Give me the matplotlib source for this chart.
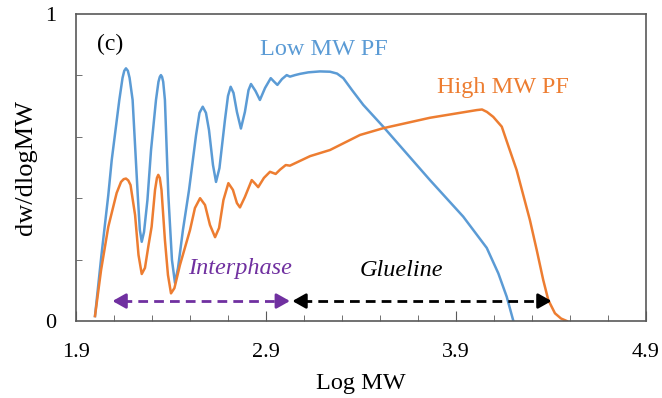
import numpy as np
import matplotlib
matplotlib.use("Agg")
import matplotlib.pyplot as plt
from matplotlib.ticker import MultipleLocator, FixedLocator

plt.rcParams["font.family"] = ["Liberation Serif", "DejaVu Serif"]

# Low MW PF (blue)
low_x = [2.000, 2.034, 2.070, 2.088, 2.128, 2.145, 2.154, 2.163, 2.173, 2.182,
         2.198, 2.225, 2.236, 2.246, 2.258, 2.276, 2.295, 2.321, 2.334, 2.341,
         2.347, 2.353, 2.359, 2.368, 2.386, 2.405, 2.421, 2.437, 2.463, 2.495,
         2.532, 2.550, 2.567, 2.584, 2.600, 2.621, 2.637, 2.655, 2.684, 2.700,
         2.714, 2.729, 2.747, 2.768, 2.789, 2.808, 2.821, 2.845, 2.868, 2.895,
         2.925, 2.942, 2.960, 2.984, 3.009, 3.026, 3.053, 3.079, 3.123, 3.184,
         3.237, 3.274, 3.307, 3.353, 3.412, 3.517, 3.763, 3.938, 4.062, 4.123,
         4.167, 4.202]
low_y = [0.016, 0.215, 0.410, 0.524, 0.720, 0.792, 0.815, 0.823, 0.815, 0.792,
         0.720, 0.410, 0.297, 0.258, 0.290, 0.394, 0.557, 0.720, 0.779, 0.795,
         0.801, 0.795, 0.779, 0.720, 0.410, 0.199, 0.124, 0.173, 0.297, 0.427,
         0.606, 0.678, 0.698, 0.678, 0.622, 0.508, 0.453, 0.498, 0.655, 0.733,
         0.763, 0.743, 0.681, 0.627, 0.681, 0.752, 0.772, 0.749, 0.720, 0.759,
         0.791, 0.780, 0.769, 0.788, 0.801, 0.796, 0.801, 0.805, 0.810, 0.813,
         0.812, 0.806, 0.791, 0.752, 0.704, 0.633, 0.459, 0.340, 0.238, 0.155,
         0.079, 0.000]

# High MW PF (orange)
high_x = [2.000, 2.032, 2.070, 2.114, 2.137, 2.151, 2.163, 2.175, 2.187, 2.211,
          2.229, 2.246, 2.263, 2.282, 2.298, 2.316, 2.326, 2.333, 2.341, 2.350,
          2.368, 2.384, 2.400, 2.418, 2.447, 2.500, 2.526, 2.553, 2.579, 2.605,
          2.632, 2.653, 2.676, 2.702, 2.726, 2.747, 2.763, 2.789, 2.825, 2.842,
          2.859, 2.889, 2.921, 2.951, 2.974, 3.004, 3.026, 3.132, 3.237, 3.395,
          3.517, 3.763, 4.009, 4.037, 4.063, 4.096, 4.141, 4.174, 4.219, 4.289,
          4.325, 4.359, 4.386, 4.421, 4.453, 4.483]
high_y = [0.016, 0.166, 0.307, 0.417, 0.453, 0.462, 0.464, 0.458, 0.443, 0.345,
          0.215, 0.153, 0.173, 0.248, 0.307, 0.427, 0.466, 0.476, 0.466, 0.427,
          0.264, 0.150, 0.090, 0.107, 0.182, 0.296, 0.368, 0.400, 0.378, 0.313,
          0.273, 0.303, 0.394, 0.449, 0.427, 0.384, 0.370, 0.404, 0.459, 0.448,
          0.436, 0.466, 0.486, 0.479, 0.493, 0.508, 0.506, 0.537, 0.557, 0.606,
          0.628, 0.662, 0.687, 0.689, 0.681, 0.665, 0.633, 0.573, 0.492, 0.329,
          0.231, 0.134, 0.068, 0.025, 0.008, 0.000]

x_ticks = [1.9, 2.9, 3.9, 4.9]
blue = "#5B9BD5"
orange = "#ED7D31"
purple = "#7030A0"

fig = plt.figure(figsize=(6.62, 3.98), dpi=100)
ax = fig.add_axes([0.1148, 0.1935, 0.8610, 0.7713])

ax.plot(low_x, low_y, color=blue, lw=1.8, solid_joinstyle="round")
ax.plot(high_x, high_y, color=orange, lw=1.8, solid_joinstyle="round")

ax.set_xlim(1.9, 4.9)
ax.set_ylim(0, 1)
ax.xaxis.set_major_locator(FixedLocator(x_ticks))
ax.xaxis.set_minor_locator(FixedLocator(np.arange(2.1, 4.85, 0.2)))
ax.yaxis.set_major_locator(FixedLocator([0, 1]))
ax.yaxis.set_minor_locator(MultipleLocator(0.2))
ax.set_xticklabels([f"{t:.1f}" for t in x_ticks])
ax.set_yticklabels(["0", "1"])
ax.tick_params(which="both", direction="in", colors="#595959", labelcolor="black",
               labelsize=16)
ax.tick_params(axis="x", which="major", length=7, pad=16)
ax.tick_params(axis="y", which="major", length=0, pad=14)
ax.tick_params(which="minor", length=4)
for s in ax.spines.values():
    s.set_color("#595959")
    s.set_linewidth(1.2)

ax.set_xlabel("Log MW", fontsize=17.5, labelpad=8)
ax.set_ylabel("dw/dlogMW", fontsize=19, labelpad=6)

ax.text(2.079, 0.883, "(c)", fontsize=17, ha="center", va="baseline")
ax.text(3.205, 0.866, "Low MW PF", fontsize=17.5, color=blue, ha="center", va="baseline")
ax.text(4.146, 0.744, "High MW PF", fontsize=17.5, color=orange, ha="center", va="baseline")
ax.text(2.763, 0.153, "Interphase", fontsize=17.5, color=purple, style="italic",
        ha="center", va="baseline")
ax.text(3.613, 0.148, "Glueline", fontsize=17.5, color="black", style="italic",
        ha="center", va="baseline")

# dashed double arrows
ya = 0.065
for x0, x1, c in [(2.092, 3.026, purple), (3.039, 4.403, "black")]:
    ax.plot([x0 + 0.05, x1 - 0.05], [ya, ya], color=c, lw=2, dashes=(3.5, 2.2))
    for tip, base in [(x0, x0 + 0.07), (x1, x1 - 0.07)]:
        ax.annotate("", xy=(tip, ya), xytext=(base, ya),
                    arrowprops=dict(arrowstyle="-|>,head_length=0.8,head_width=0.45",
                                    color=c, lw=2, shrinkA=0, shrinkB=0))

fig.savefig("out.png", dpi=100)
